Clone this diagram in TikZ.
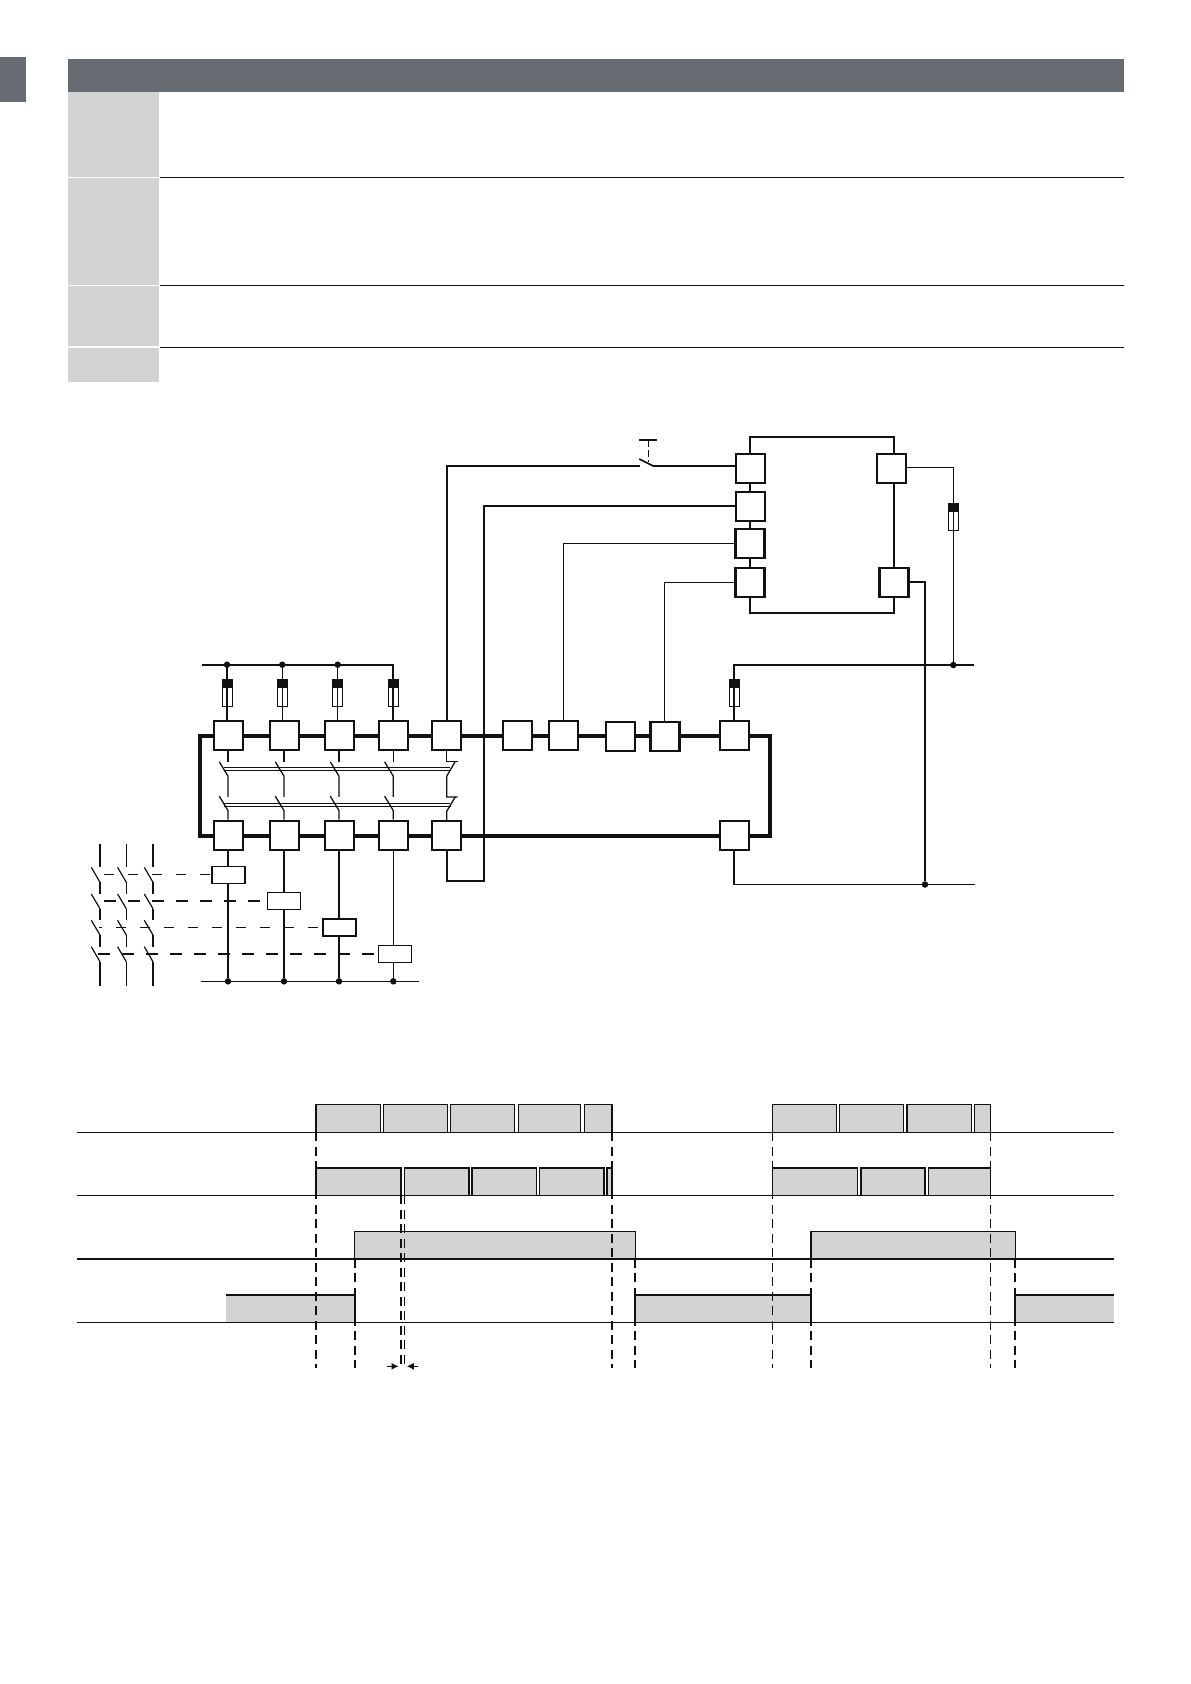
\documentclass[tikz,border=0pt]{standalone}
\usetikzlibrary{arrows.meta,calc}
\definecolor{hdr}{HTML}{666C72}
\definecolor{cell}{HTML}{D1D3D4}
\definecolor{ink}{HTML}{111111}
\tikzset{
  sq/.style={draw=ink,fill=white,rectangle,inner sep=0pt,minimum size=29pt,line width=2pt,outer sep=0pt},
  sqb/.style={sq,line width=2.4pt},
  coil/.style={draw=ink,fill=white,rectangle,inner sep=0pt,minimum width=33pt,minimum height=17pt,line width=1.8pt,outer sep=0pt},
  bus/.style={draw=ink,line width=3.6pt,line join=miter},
  thin wire/.style={draw=ink,line width=1.2pt},
  mid wire/.style={draw=ink,line width=1.7pt},
  heavy wire/.style={draw=ink,line width=2.2pt},
  jdot/.style={circle,fill=ink,inner sep=0pt,minimum size=6.5pt},
  pulse/.style={fill=cell,draw=ink,line width=1.4pt},
  pulseb/.style={fill=cell,draw=ink,line width=1.6pt},
  tdash/.style={draw=ink,line width=1.6pt,dash pattern=on 9pt off 5.5pt},
  tdashb/.style={draw=ink,line width=2pt,dash pattern=on 9pt off 5.5pt},
  tdashn/.style={draw=ink,line width=1.1pt,dash pattern=on 9pt off 5.5pt},
  linkthin/.style={draw=ink,line width=1.1pt,dash pattern=on 10pt off 14pt},
  linkthick/.style={draw=ink,line width=1.9pt,dash pattern=on 12pt off 12pt},
  fuse/.pic={
    \fill[ink] (-5.2,0) rectangle (5.2,8.4);
    \draw[ink,line width=1pt] (-5,8.4) rectangle (5,27.4);
  }
}
\begin{document}
\begin{tikzpicture}[x=1pt,y=-1pt]
\useasboundingbox (0,0) rectangle (1191,1684);
% header table
\fill[hdr] (0,57.3) rectangle (26,102);
\fill[hdr] (68,59) rectangle (1123.5,91.7);
\fill[cell] (68,92.2) rectangle (159,176.6);
\fill[cell] (68,178) rectangle (159,284.6);
\fill[cell] (68,286) rectangle (159,346.3);
\fill[cell] (68,348) rectangle (159,381.7);
\foreach \yy in {177.4,285.4,347.3}
  \draw[ink,line width=1pt] (159.5,\yy) -- (1123.5,\yy);

% relay blocks, top row / bottom row
\node[sq]  (t1) at (228,735.3) {};
\node[sq]  (t2) at (284,735.3) {};
\node[sq]  (t3) at (339,735.3) {};
\node[sqb] (t4) at (393.3,735.3) {};
\node[sqb] (t5) at (446.7,735.3) {};
\node[sq]  (t6) at (517,735.3) {};
\node[sq]  (t7) at (563.3,735.3) {};
\node[sq]  (t8) at (620,736.5) {};
\node[sqb] (t9) at (664.8,736.5) {};
\node[sq]  (t10) at (734,735.3) {};
\node[sq]  (u1) at (228,835.3) {};
\node[sq]  (u2) at (284,835.3) {};
\node[sq]  (u3) at (339,835.3) {};
\node[sqb] (u4) at (393.3,835.3) {};
\node[sqb] (u5) at (446.7,835.3) {};
\node[sq]  (u10) at (734,835.3) {};
% bus
\coordinate (bl1) at (200,735.7);
\coordinate (bl2) at (200,835.7);
\coordinate (br1) at (770,735.7);
\coordinate (br2) at (770,835.7);
\draw[bus] (t1.west |- bl1) -- (bl1) -- (bl2) -- (u1.west |- bl2);
\foreach \a/\b in {t1/t2,t2/t3,t3/t4,t4/t5,t5/t6,t6/t7,t7/t8,t8/t9,t9/t10}
  \draw[bus] (\a.east |- bl1) -- (\b.west |- bl1);
\foreach \a/\b in {u1/u2,u2/u3,u3/u4,u4/u5,u5/u10}
  \draw[bus] (\a.east |- bl2) -- (\b.west |- bl2);
\draw[bus] (t10.east |- br1) -- (br1) -- (br2) -- (u10.east |- br2);

% ganged contacts
\foreach \n/\w in {t1/1.1,t2/1.1,t3/1.8,t4/1.1}{
  \draw[ink,line width=\w pt] (\n.south) -- ++(0,12);
  \draw[ink,line width=1.3pt] ($(\n.south)+(-8.7,12)$) -- ++(8.7,14.4) -- ++(0,20.6);
  \draw[ink,line width=1.3pt] ($(\n.south)+(-8.7,46.4)$) -- ++(8.7,14.4) -- ++(0,9);
}
\draw[thin wire] (t5.south) -- ++(0,11.5) -- ++(11,0);
\draw[ink,line width=1.3pt] ($(t5.south)+(8.6,11.5)$) -- ++(-8.6,15) -- ++(0,20.6) -- ++(11,0);
\draw[ink,line width=1.3pt] ($(t5.south)+(8.6,47)$) -- ++(-8.6,14.5) -- ++(0,8.5);
\coordinate (l1a) at (224,767.7); \coordinate (l1b) at (450,767.7);
\coordinate (l2a) at (224,770.4); \coordinate (l2b) at (451,770.4);
\coordinate (l3a) at (224,803.3); \coordinate (l3b) at (450,803.3);
\coordinate (l4a) at (224,806);   \coordinate (l4b) at (451,806);
\draw[ink,line width=0.9pt] (l1a) -- (l1b);
\draw[ink,line width=0.9pt] (l2a) -- (l2b);
\draw[ink,line width=0.9pt] (l3a) -- (l3b);
\draw[ink,line width=0.9pt] (l4a) -- (l4b);

% top-left supply and fuses
\coordinate (bs) at (202,664.7);
\coordinate (be) at (393.3,664.7);
\node[jdot] (d1) at (227,664.7) {};
\node[jdot] (d2) at (282.3,664.7) {};
\node[jdot] (d3) at (337.7,664.7) {};
\draw[mid wire] (bs) -- (be) -- (t4.north -| be);
\draw[mid wire] (d1.center) -- (d1 |- t1.north);
\draw[thin wire] (d2.center) -- (d2 |- t2.north);
\draw[thin wire] (d3.center) -- (d3 |- t3.north);
\pic at (227.5,679.3) {fuse};
\pic at (282.5,679.3) {fuse};
\pic at (337.5,679.3) {fuse};
\pic at (393.5,679.3) {fuse};

% coils
\node[coil] (c1) at (228.8,875) {};
\node[coil] (c2) at (284,901) {};
\node[coil] (c3) at (339.2,927.7) {};
\node[coil] (c4) at (395,954) {};
\coordinate (lb1) at (201,981.3);
\coordinate (lb2) at (418.7,981.3);
\draw[thin wire] (lb1) -- (lb2);
\node[jdot] (e1) at (u1 |- lb1) {};
\node[jdot] (e2) at (u2 |- lb1) {};
\node[jdot] (e3) at (u3 |- lb1) {};
\node[jdot] (e4) at (u4 |- lb1) {};
\draw[thin wire] (u1.south) -- (u1 |- c1.north);
\draw[thin wire] (u1 |- c1.south) -- (e1);
\draw[heavy wire] (u2.south) -- (u2 |- c2.north);
\draw[heavy wire] (u2 |- c2.south) -- (e2);
\draw[mid wire] (u3.south) -- (u3 |- c3.north);
\draw[mid wire] (u3 |- c3.south) -- (e3);
\draw[thin wire] (u4.south) -- (u4 |- c4.north);
\draw[thin wire] (u4 |- c4.south) -- (e4);

% left contact blocks
\foreach \x/\w in {100/2,126.3/1.1,153/2}{
  \draw[ink,line width=\w pt] (\x,844) -- (\x,867);
  \draw[ink,line width=1.2pt] (\x-8.7,867.3) -- (\x,882.3);
  \draw[ink,line width=\w pt] (\x,882.3) -- (\x,894);
  \draw[ink,line width=1.2pt] (\x-8.7,894) -- (\x,908.7);
  \draw[ink,line width=\w pt] (\x,908.7) -- (\x,920.3);
  \draw[ink,line width=1.2pt] (\x-8.7,920.3) -- (\x,935);
  \draw[ink,line width=\w pt] (\x,935) -- (\x,946.7);
  \draw[ink,line width=1.2pt] (\x-8.7,946.7) -- (\x,961.7);
  \draw[ink,line width=\w pt] (\x,961.7) -- (\x,985.7);
}
\coordinate (r1) at (104,874.3);
\coordinate (r2) at (104,900.7);
\coordinate (r3) at (99,927.3);
\coordinate (r4) at (98.3,954);
\draw[linkthin] (r1) -- (c1.west |- r1);
\draw[linkthick] (r2) -- (c2.west |- r2);
\draw[linkthin,dash pattern=on 10pt off 14pt,dash phase=7pt] (r3) -- (c3.west |- r3);
\draw[linkthick] (r4) -- (c4.west |- r4);

% upper-right unit
\node[sq]  (p1) at (750,468) {};
\node[sq]  (p2) at (750,506) {};
\node[sqb] (p3) at (750,543.3) {};
\node[sqb] (p4) at (750,582.3) {};
\node[sq]  (q1) at (891,468) {};
\node[sqb] (q2) at (894,582.3) {};
\coordinate (rail) at (894,436.7);
\coordinate (raillow) at (894,612.7);
\draw[mid wire] (p1.north) |- (rail) -- (q1.north -| rail);
\draw[mid wire] (p4.south) |- (raillow) -- (q2.south -| raillow);
\draw[mid wire] (p1.south) -- (p2.north);
\draw[mid wire] (p2.south) -- (p3.north);
\draw[mid wire] (p3.south) -- (p4.north);
\draw[mid wire] (q1.south -| rail) -- (q2.north -| rail);

% wires from the row up to the unit
\coordinate (sw1) at (640,466);
\coordinate (sw2) at (653.3,466);
\coordinate (swt) at (639.3,459);
\coordinate (act) at (648.3,440);
\coordinate (actl) at (639.3,440);
\coordinate (actr) at (657.3,440);
\draw[mid wire] (t5.north) |- (sw1);
\draw[mid wire] (sw2) -- (p1.west |- sw2);
\draw[mid wire] (swt) -- (sw2);
\draw[thin wire] (actl) -- (actr);
\draw[thin wire,dash pattern=on 7pt off 3pt] (act) -- ++(0,22);
\coordinate (lp) at (484.3,880.7);
\draw[mid wire] (u5.south) |- (lp) |- (p2.west);
\draw[thin wire] (t7.north) |- (p3.west);
\draw[thin wire] (t9.north) |- (p4.west);

% right supply and return
\coordinate (s1) at (953.3,467.7);
\node[jdot] (d5) at (953.3,665) {};
\coordinate (s2) at (974,665);
\draw[thin wire] (q1.east |- s1) -- (s1) -- (d5);
\pic at (953.3,503.3) {fuse};
\draw[mid wire] (t10.north) -- (t10 |- s2) -- (s2);
\pic at (734.5,679.3) {fuse};
\node[jdot] (d6) at (925,884.5) {};
\coordinate (s3) at (975,884.5);
\draw[mid wire] (q2.east) -| (d6);
\draw[thin wire] (u10.south) |- (s3);

% timing diagram: pulses
\foreach \a/\b in {316/380.3,383.3/447.7,450.7/514.7,518.7/580.7,584.3/612,772.3/836.7,839.7/903.7,907/971.3,974.7/990.3}
  \draw[pulse] (\a,1132.3) rectangle (\b,1104.3);
\foreach \a/\b in {316/401,404.3/468.7,471.7/536.3,539.3/603.7,606.7/612,772.3/857.3,860.7/924.7,928.3/990.3}
  \draw[pulseb] (\a,1195.3) rectangle (\b,1167.7);
\draw[pulse] (354.7,1258.7) rectangle (635.7,1231.3);
\draw[pulse] (811,1258.7) rectangle (1015.3,1231.3);
\fill[cell] (226,1295) rectangle (354.7,1322.3);
\fill[cell] (635,1295) rectangle (811,1322.3);
\fill[cell] (1015.3,1295) rectangle (1114,1322.3);
\draw[heavy wire] (226,1295) -- (354.7,1295) -- (354.7,1322.3);
\draw[heavy wire] (635,1322.3) -- (635,1295) -- (811,1295) -- (811,1322.3);
\draw[heavy wire] (1015.3,1322.3) -- (1015.3,1295) -- (1114,1295);
% base lines
\draw[ink,line width=1.1pt] (77,1132.3) -- (1114,1132.3);
\draw[ink,line width=1.1pt] (77,1195.3) -- (1114,1195.3);
\draw[ink,line width=1.7pt] (77,1258.7) -- (1114,1258.7);
\draw[ink,line width=1.1pt] (77,1322.3) -- (1114,1322.3);
% dashed verticals
\draw[tdashb] (316,1132.3) -- (316,1367.7);
\draw[tdash] (612,1132.3) -- (612,1367.7);
\draw[tdashn] (772.3,1132.3) -- (772.3,1367.7);
\draw[tdashn] (990.3,1132.3) -- (990.3,1367.7);
\draw[tdashb] (354.7,1258.7) -- (354.7,1367.7);
\draw[tdashb] (635,1258.7) -- (635,1367.7);
\draw[tdashb] (811,1258.7) -- (811,1367.7);
\draw[tdashb] (1015,1258.7) -- (1015,1367.7);
\draw[tdashb] (401,1195.3) -- (401,1367.7);
\draw[tdashn] (404.3,1195.3) -- (404.3,1367.7);
% interval arrows
\coordinate (al) at (387,1366.3);
\coordinate (alt) at (398.5,1366.3);
\coordinate (ar) at (418,1366.3);
\coordinate (art) at (406.8,1366.3);
\draw[ink,line width=1pt,-{Latex[length=7pt,width=7pt]}] (al) -- (alt);
\draw[ink,line width=1pt,-{Latex[length=7pt,width=7pt]}] (ar) -- (art);
\end{tikzpicture}
\end{document}
